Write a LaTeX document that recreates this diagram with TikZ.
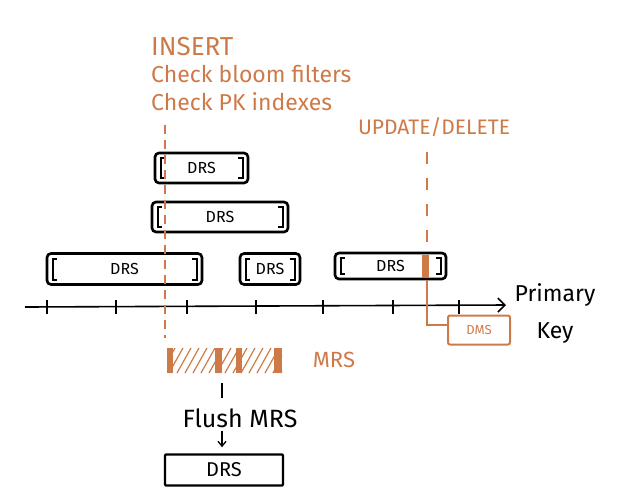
\documentclass[tikz,border=0pt]{standalone}
\usepackage{fontspec}
\setmainfont{Fira Sans}
\usetikzlibrary{arrows.meta,calc}
\definecolor{ora}{RGB}{206,122,72}
\begin{document}
\begin{tikzpicture}[x=1pt,y=-1pt,
  bracketbox/.style={draw=black,line width=2.6pt,rounded corners=4pt,inner sep=0pt,
    font=\fontsize{16}{18}\selectfont,
    path picture={
      \draw[line width=2pt,sharp corners]
        ([xshift=10pt,yshift=-5pt]path picture bounding box.north west) -- ++(-4.5pt,0)
        |- ([xshift=10pt,yshift=5pt]path picture bounding box.south west);
      \draw[line width=2pt,sharp corners]
        ([xshift=-10pt,yshift=-5pt]path picture bounding box.north east) -- ++(4.5pt,0)
        |- ([xshift=-10pt,yshift=5pt]path picture bounding box.south east);
    }},
  plainbox/.style={draw=black,line width=2.4pt,rounded corners=1pt,inner sep=0pt,
    font=\fontsize{20}{22}\selectfont},
  orabox/.style={draw=ora,text=ora,line width=2pt,rounded corners=2pt,inner sep=0pt,
    font=\fontsize{13}{15}\selectfont},
  oratext/.style={text=ora,inner sep=0pt},
  blacktext/.style={text=black,inner sep=0pt},
  insdash/.style={draw=ora,line width=1.5pt,dash pattern=on 9pt off 6pt},
  upddash/.style={draw=ora,line width=1.5pt,dash pattern=on 12pt off 14pt},
  oraline/.style={draw=ora,line width=1.5pt},
  axisline/.style={draw=black,line width=1.6pt},
  tickmark/.style={draw=black,line width=1.6pt},
  arrowline/.style={draw=black,line width=1.3pt,-{Straight Barb[length=5pt,width=8pt]}},
]
\useasboundingbox (0,0) rectangle (618,496);

% texts
\node[oratext,anchor=north west,align=left,font=\fontsize{23}{27.5}\selectfont] (ins) at (151,37)
  {{\fontsize{26}{27.5}\selectfont INSERT}\\Check bloom filters\\Check PK indexes};
\node[oratext,font=\fontsize{21}{24}\selectfont] (upd) at (434,127) {UPDATE/DELETE};
\node[blacktext,align=center,font=\fontsize{23}{37}\selectfont] (pk) at (555,313) {Primary\\Key};
\node[oratext,font=\fontsize{22}{24}\selectfont] (mrslbl) at (334,360) {MRS};
\node[blacktext,font=\fontsize{25}{28}\selectfont] (flush) at (240,418) {Flush MRS};

% DRS boxes
\node[bracketbox,minimum width=93pt,minimum height=30pt] (d1) at (201.5,168) {DRS};
\node[bracketbox,minimum width=136pt,minimum height=30pt] (d2) at (220,217) {DRS};
\node[bracketbox,minimum width=155pt,minimum height=31pt] (d3) at (124.5,269) {DRS};
\node[bracketbox,minimum width=60pt,minimum height=31pt] (d4) at (270,269) {DRS};
\node[bracketbox,minimum width=111pt,minimum height=26pt] (d5) at (390.5,266) {DRS};
\node[plainbox,minimum width=118pt,minimum height=31pt] (d6) at (224,470) {DRS};
\node[orabox,minimum width=62pt,minimum height=29pt] (dms) at (479,330) {DMS};

% orange bar inside d5
\fill[ora] (422,254.5) rectangle (428.5,277.5);

% axis
\coordinate (a0) at (25,307);
\coordinate (a1) at (506,305);
\draw[axisline,-{Straight Barb[length=7pt,width=14pt]}] (a0) -- (a1);
\foreach \x in {47,116,187,256,323,393,459}
  \draw[tickmark] (\x,300) -- (\x,314);

% MRS bar
\node[minimum width=115pt,minimum height=25pt,inner sep=0pt,
  path picture={
    \foreach \k in {0,...,16}
      \draw[ora,line width=1.2pt] ($(path picture bounding box.south west)+(\k*8pt-6pt,0)$) -- ++(14pt,25pt);
  }] (mrsbar) at (224.5,360.5) {};
\fill[ora] (167,348) rectangle (173,373);
\fill[ora] (215,348) rectangle (222,373);
\fill[ora] (236,348) rectangle (242,373);
\fill[ora] (274,348) rectangle (282,373);

% insert line
\coordinate (i1) at (165,125);
\coordinate (i2) at (165,338);
\draw[insdash] (i1) -- (i2);

% update line
\coordinate (u1) at (427,152);
\draw[upddash] (u1) -- (u1 |- d5.north);
\draw[oraline] (u1 |- d5.south) |- ([yshift=5pt]dms.west);

% flush
\draw[tickmark,line width=1.3pt] ([yshift=-10pt]mrsbar.south -| 222,0) -- ([yshift=-25pt]mrsbar.south -| 222,0);
\draw[arrowline] (flush.south -| 222,0) ++(0,3) -- ([yshift=6pt]d6.north -| 222,0);
\end{tikzpicture}
\end{document}
